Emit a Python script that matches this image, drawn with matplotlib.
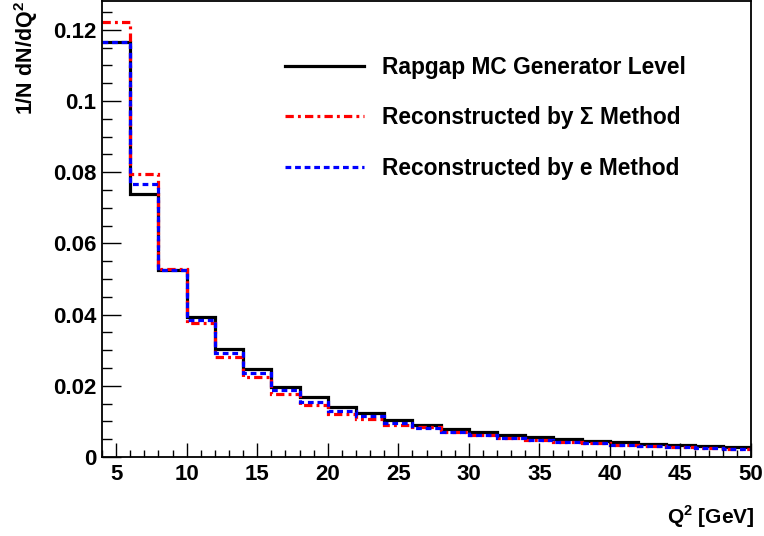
import matplotlib
matplotlib.use("Agg")
import matplotlib.pyplot as plt
from matplotlib.lines import Line2D
import numpy as np

plt.rcParams['font.family'] = ['Liberation Sans', 'DejaVu Sans']
plt.rcParams['font.weight'] = 'bold'
plt.rcParams['mathtext.fontset'] = 'custom'
plt.rcParams['mathtext.rm'] = 'Liberation Sans:bold'
plt.rcParams['mathtext.bf'] = 'Liberation Sans:bold'

# Bin edges Q^2 (GeV)
edges = np.arange(4, 52, 2)

gen_level = [0.1166, 0.0739, 0.0525, 0.0394, 0.0303, 0.0246, 0.0198, 0.0168,
             0.0140, 0.0123, 0.0104, 0.0091, 0.0079, 0.0070, 0.0062, 0.0055,
             0.0050, 0.0046, 0.0042, 0.0037, 0.0035, 0.0032, 0.0029]
sigma_method = [0.1221, 0.0796, 0.0527, 0.0377, 0.0282, 0.0224, 0.0177, 0.0146,
                0.0121, 0.0108, 0.0091, 0.0083, 0.0071, 0.0062, 0.0053, 0.0048,
                0.0042, 0.0038, 0.0035, 0.0031, 0.0028, 0.0025, 0.0023]
e_method = [0.1166, 0.0766, 0.0525, 0.0385, 0.0293, 0.0235, 0.0188, 0.0155,
            0.0130, 0.0115, 0.0096, 0.0082, 0.0070, 0.0062, 0.0053, 0.0048,
            0.0042, 0.0038, 0.0035, 0.0031, 0.0028, 0.0025, 0.0023]

labels = ["Rapgap MC Generator Level",
          "Reconstructed by \u03a3 Method",
          "Reconstructed by e Method"]

W, H = 764, 536
fig = plt.figure(figsize=(W/100, H/100), dpi=100)
ax = fig.add_axes([102/W, 1 - 457/H, (751-102)/W, (457-1)/H])

red_dash = (0, (2.6, 1.3, 0.9, 1.3))
blue_dash = (0, (1.8, 1.2))

ax.stairs(gen_level, edges, baseline=None, color='black', linewidth=2.3)
ax.stairs(sigma_method, edges, baseline=None, color='#ff0000', linewidth=2.3,
          linestyle=red_dash)
ax.stairs(e_method, edges, baseline=None, color='#0000ff', linewidth=2.3,
          linestyle=blue_dash)

ax.set_xlim(4, 50)
ax.set_ylim(0, 0.1281)

ax.set_xticks(np.arange(5, 51, 5))
ax.set_xticks(np.arange(4, 51, 1), minor=True)
ax.set_yticks([0, 0.02, 0.04, 0.06, 0.08, 0.1, 0.12])
ax.set_yticklabels(['0', '0.02', '0.04', '0.06', '0.08', '0.1', '0.12'])
ax.set_yticks(np.arange(0, 0.128, 0.005), minor=True)

ax.tick_params(axis='both', which='both', direction='in', labelsize=16,
               top=False, right=False)
ax.tick_params(axis='x', which='major', length=10, width=1.0, pad=5)
ax.tick_params(axis='x', which='minor', length=5, width=1.0)
ax.tick_params(axis='y', which='major', length=14, width=1.0, pad=4)
ax.tick_params(axis='y', which='minor', length=7, width=1.0)
for sp in ax.spines.values():
    sp.set_linewidth(1.3)

fig.text(755/W, 1 - 517/H, "Q$^{2}$ [GeV]", ha='right', va='center',
         fontsize=15, fontweight='bold')
fig.text(26/W, 1 - 1/H, "1/N dN/dQ$^{2}$", ha='center', va='top',
         rotation=90, fontsize=15.5, fontweight='bold')

handles = [Line2D([], [], color='black', linewidth=2.3),
           Line2D([], [], color='#ff0000', linewidth=2.3, linestyle=red_dash),
           Line2D([], [], color='#0000ff', linewidth=2.3, linestyle=blue_dash)]
leg = ax.legend(handles, labels, loc='upper left', frameon=False,
                fontsize=16.4, handlelength=3.45, handletextpad=0.8,
                labelspacing=1.2, borderpad=0, borderaxespad=0)
leg.set_bbox_to_anchor((285/W, 1 - 56/H), transform=fig.transFigure)

fig.savefig("out.png", dpi=100)
